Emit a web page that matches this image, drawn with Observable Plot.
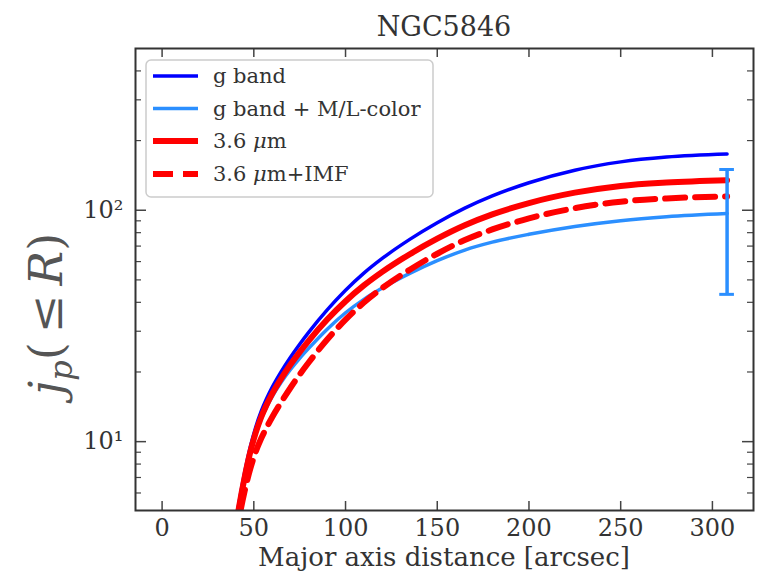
<!DOCTYPE html>
<html><head><meta charset="utf-8">
<script src="https://cdn.jsdelivr.net/npm/d3@7"></script>
<script src="https://cdn.jsdelivr.net/npm/@observablehq/plot@0.6"></script>
<style>body{margin:0;background:#fff} svg{display:block}</style>
</head><body><div id="chart"></div>
<script>
// ---- data ----
const title = "NGC5846";
const xLabel = "Major axis distance [arcsec]";
const radius   = [40, 42, 45, 48, 51, 54, 57, 60, 65, 70, 75, 80, 90, 100, 110, 120, 135, 150, 165, 180, 200, 225, 250, 275, 308];
const gBand    = [4.42, 5.50, 7.36, 9.43, 11.51, 13.50, 15.35, 17.16, 20.12, 23.17, 26.36, 29.72, 37.07, 45.08, 53.46, 61.88, 74.82, 88.31, 102.1, 115.3, 131.5, 148.9, 161.8, 169.8, 175.0];
const gBandML  = [4.22, 5.25, 6.98, 8.88, 10.76, 12.52, 14.13, 15.65, 18.10, 20.51, 22.91, 25.35, 30.62, 36.06, 41.21, 46.08, 53.33, 60.53, 67.30, 72.78, 78.70, 85.11, 90.16, 93.76, 96.83];
const irac     = [4.22, 5.25, 7.01, 8.97, 10.91, 12.75, 14.45, 16.09, 18.77, 21.53, 24.38, 27.35, 33.73, 40.46, 47.32, 54.15, 64.57, 75.34, 86.10, 95.94, 107.4, 119.1, 127.4, 131.8, 134.9];
const iracIMF  = [3.80, 4.68, 6.11, 7.60, 9.02, 10.31, 11.53, 12.75, 14.84, 17.10, 19.50, 22.03, 27.61, 33.65, 39.90, 46.08, 55.34, 64.86, 74.30, 82.60, 92.26, 102.1, 108.9, 112.5, 114.8];
const errX = [308];
const errLow = [43.3];
const errHigh = [150];
const legendLabels = ["g band", "g band + M/L-color", "3.6 μm", "3.6 μm+IMF"];
const xTicks = [0, 50, 100, 150, 200, 250, 300];
const yTicks = [10, 100];
const yTickLabels = ["10¹", "10²"];
const yMinor = [6, 7, 8, 9, 20, 30, 40, 50, 60, 70, 80, 90, 200, 300, 400];

// ---- layout / style ----
const W = 766, H = 574, mL = 135, mR = 13, mT = 48, mB = 64;
const innerW = W - mL - mR, innerH = H - mT - mB;
const series = [
  {key: legendLabels[0], ys: gBand,   color: "#0000ff", width: 3.5, dash: null},
  {key: legendLabels[1], ys: gBandML, color: "#2b8fff", width: 3.5, dash: null},
  {key: legendLabels[2], ys: irac,    color: "#ff0000", width: 6,   dash: null},
  {key: legendLabels[3], ys: iracIMF, color: "#ff0000", width: 6,   dash: "20,10"}
];
const rows = ys => radius.map((x, i) => ({x, y: ys[i]}));
const errRows = errX.map((x, i) => ({x, y1: errLow[i], y2: errHigh[i]}));
const capRows = errX.flatMap((x, i) => [{x1: x - 4, x2: x + 4, y: errLow[i]}, {x1: x - 4, x2: x + 4, y: errHigh[i]}]);
const tickColor = "#444";

const chart = Plot.plot({
  width: W, height: H,
  marginLeft: mL, marginRight: mR, marginTop: mT, marginBottom: mB,
  style: {fontFamily: "'DejaVu Serif', serif", fontSize: "24px", color: "#333", background: "#fff"},
  x: {domain: [-14.5, 322.4], ticks: xTicks, tickSize: 0, tickPadding: 8, label: null},
  y: {type: "log", domain: [5.04, 500], ticks: yTicks, tickSize: 0, tickPadding: 12, label: null,
      tickFormat: d => yTickLabels[yTicks.indexOf(d)]},
  marks: [
    ...series.map(s => Plot.line(rows(s.ys), {x: "x", y: "y", stroke: s.color, strokeWidth: s.width,
      strokeDasharray: s.dash, clip: true, curve: "monotone-x"})),
    Plot.ruleX(errRows, {x: "x", y1: "y1", y2: "y2", stroke: "#2b8fff", strokeWidth: 3.5}),
    Plot.ruleY(capRows, {y: "y", x1: "x1", x2: "x2", stroke: "#2b8fff", strokeWidth: 3}),
    // inward ticks
    Plot.tickX(xTicks, {x: d => d, insetTop: innerH - 9, stroke: tickColor, strokeWidth: 1.5}),
    Plot.tickX(xTicks, {x: d => d, insetBottom: innerH - 9, stroke: tickColor, strokeWidth: 1.5}),
    Plot.tickY(yTicks, {y: d => d, insetRight: innerW - 11, stroke: tickColor, strokeWidth: 1.5}),
    Plot.tickY(yTicks, {y: d => d, insetLeft: innerW - 11, stroke: tickColor, strokeWidth: 1.5}),
    Plot.tickY(yMinor, {y: d => d, insetRight: innerW - 6, stroke: tickColor, strokeWidth: 1.2}),
    Plot.tickY(yMinor, {y: d => d, insetLeft: innerW - 6, stroke: tickColor, strokeWidth: 1.2}),
    Plot.frame({stroke: "#333", strokeWidth: 2})
  ]
});
document.getElementById("chart").appendChild(chart);

const svg = d3.select(chart);
const font = "'DejaVu Serif', serif";
// title
svg.append("text").attr("x", mL + innerW / 2).attr("y", 36).attr("text-anchor", "middle")
  .attr("font-family", font).attr("font-size", 27).attr("fill", "#333").text(title);
// x label
svg.append("text").attr("x", 444).attr("y", 566).attr("text-anchor", "middle")
  .attr("font-family", font).attr("font-size", 26).attr("fill", "#333").text(xLabel);
// y label  j_p(≤ R)
const yl = svg.append("text").attr("transform", "translate(62,314) rotate(-90)").attr("text-anchor", "middle")
  .attr("font-family", font).attr("font-size", 46).attr("fill", "#555");
yl.append("tspan").attr("font-style", "italic").text("j");
yl.append("tspan").attr("font-style", "italic").attr("font-size", 32).attr("dy", 10).text("p");
yl.append("tspan").attr("dy", -10).text("(\u2009≤\u2009");
yl.append("tspan").attr("font-style", "italic").text("R");
yl.append("tspan").text(")");

// legend
const lg = svg.append("g").attr("text-anchor", "start");
lg.append("rect").attr("x", 146).attr("y", 60).attr("width", 287).attr("height", 137).attr("rx", 5)
  .attr("fill", "#fff").attr("fill-opacity", 0.85).attr("stroke", "#cccccc").attr("stroke-width", 1.5);
const legendY = [76, 108.5, 141, 174];
series.forEach((s, i) => {
  lg.append("line").attr("x1", 153).attr("x2", 198).attr("y1", legendY[i]).attr("y2", legendY[i])
    .attr("stroke", s.color).attr("stroke-width", s.width).attr("stroke-dasharray", s.dash);
  const t = lg.append("text").attr("x", 213).attr("y", legendY[i]).attr("dy", "0.35em")
    .attr("text-anchor", "start")
    .attr("font-family", font).attr("font-size", 21).attr("fill", "#333");
  const parts = s.key.split("μ");
  if (parts.length > 1) {
    t.append("tspan").text(parts[0]);
    t.append("tspan").attr("font-style", "italic").text("μ");
    t.append("tspan").text(parts[1]);
  } else t.text(s.key);
});
</script>
</body></html>
